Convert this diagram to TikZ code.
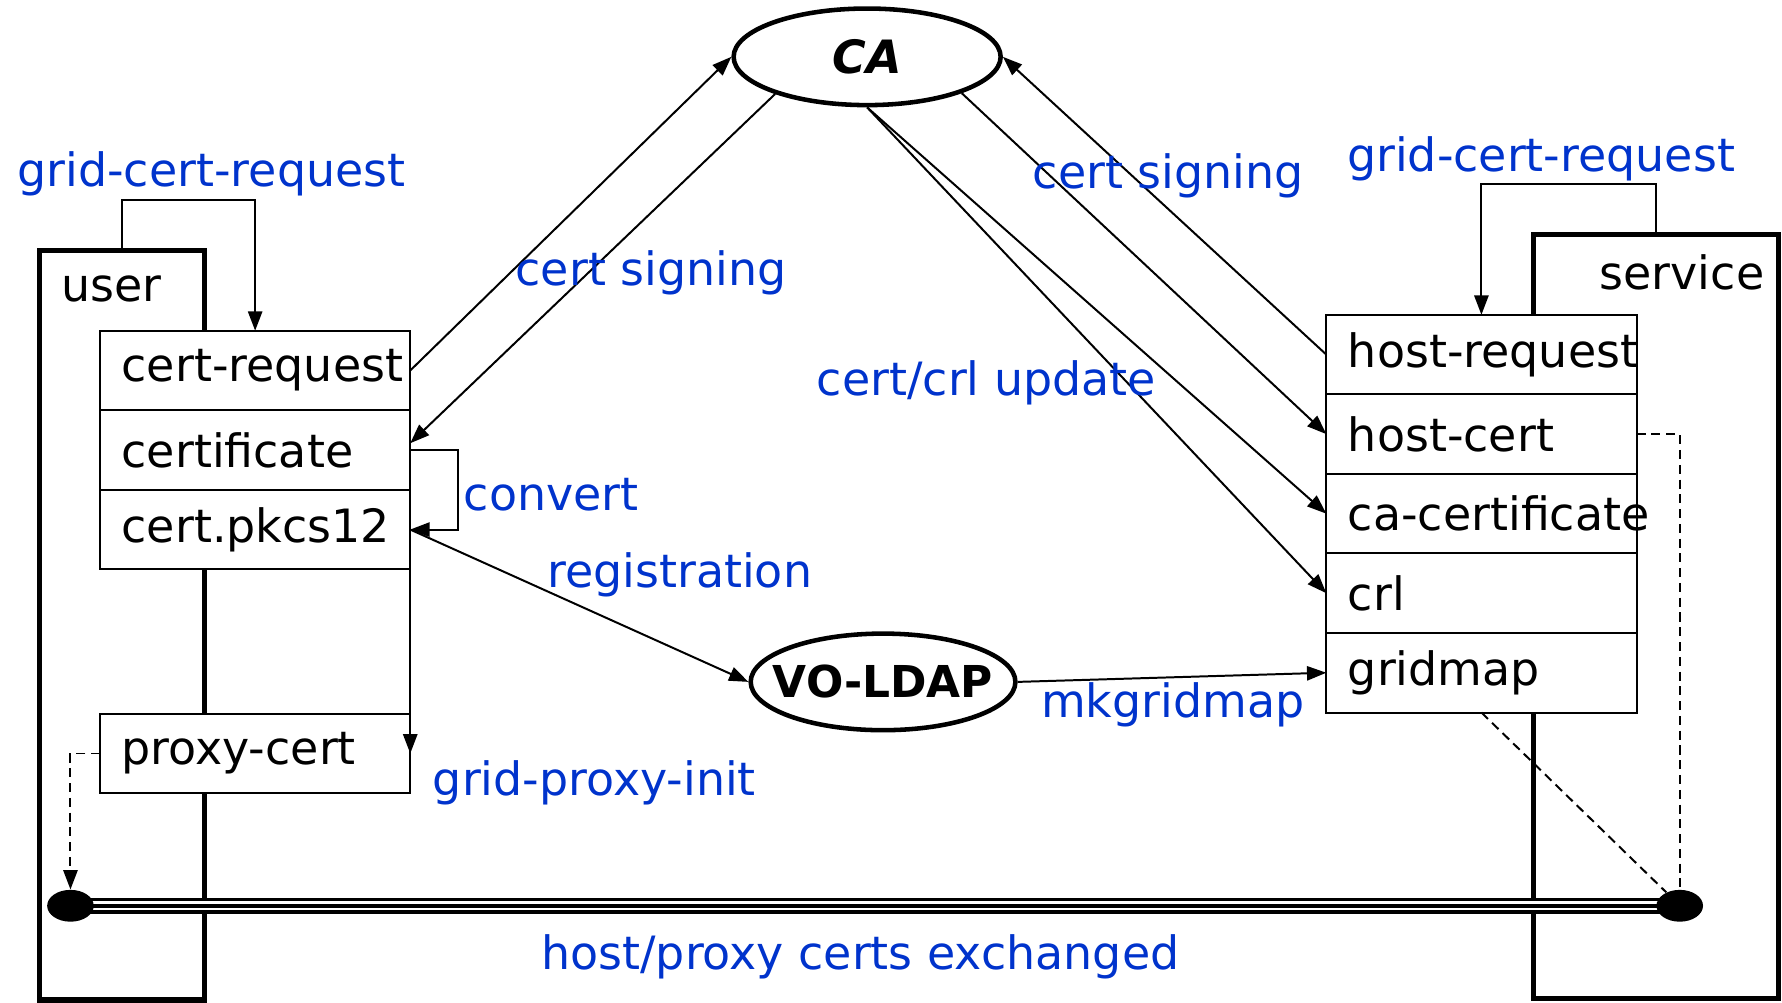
\documentclass[tikz,border=0pt]{standalone}
\usepackage{fontspec}
\setmainfont{DejaVu Sans}
\usetikzlibrary{positioning,shapes.geometric,arrows.meta,calc}
\definecolor{labelblue}{RGB}{0,51,204}
\exhyphenpenalty=10000
\hyphenpenalty=10000
\tikzset{
  big/.style={draw, line width=0.09cm, inner sep=0pt},
  cell/.style={draw, fill=white, line width=0.035cm, outer sep=0pt, minimum height=1.4cm,
    text width=4.7cm, inner xsep=0.38cm, inner ysep=0pt, align=left},
  agent/.style={draw, ellipse, line width=0.08cm, inner sep=0pt, minimum width=4.7cm, minimum height=1.7cm},
  blob/.style={fill, ellipse, inner sep=0pt, minimum width=0.82cm, minimum height=0.56cm},
  note/.style={text=labelblue},
  link/.style={line width=0.035cm, -{Triangle[length=0.34cm,width=0.25cm]}},
  dashlink/.style={line width=0.035cm, dash pattern=on 0.16cm off 0.1cm}
}
\begin{document}
\begin{tikzpicture}[x=0.02cm, y=-0.02cm, font=\fontsize{23}{27}\selectfont]
  \useasboundingbox (0,0) rectangle (1568,882);
  % hosts
  \node[big, minimum width=2.9cm, minimum height=13.2cm] (user) at (107.5,550) {};
  \node[big, minimum width=4.32cm, minimum height=13.46cm] (service) at (1457,542.5) {};
  \node (usertxt) at (98,254) {user};
  \node (servicetxt) at (1480,240) {service};

  % exchange line between the two ends
  \coordinate (lend) at (62,797);
  \coordinate (rend) at (1478,797);
  \draw[line width=0.06cm, double=white, double distance=0.16cm] (lend) -- (rend);
  \draw[line width=0.08cm] (lend) -- (rend);
  \node[blob] (ldot) at (lend) {};
  \node[blob] (rdot) at (rend) {};

  % user side files
  \node[cell] (creq) at (224.5,326) {cert-request};
  \node[cell, below=0pt of creq] (cert) {certificate};
  \node[cell, below=0pt of cert] (pkcs) {cert.pkcs12};
  \node[cell] (proxy) at (224.5,663) {proxy-cert};

  % service side files
  \node[cell] (hreq) at (1303.5,312) {host-request};
  \node[cell, below=0pt of hreq] (hcert) {host-cert};
  \node[cell, below=0pt of hcert] (cacert) {ca-certificate};
  \node[cell, below=0pt of cacert] (crl) {crl};
  \node[cell, below=0pt of crl] (gmap) {gridmap};

  % authorities (text as centre label so the ellipse keeps its size)
  \node[agent, label={[font=\fontsize{23}{27}\selectfont\bfseries\itshape]center:CA}] (ca) at (763,50) {};
  \node[agent, minimum width=4.66cm, label={[font=\fontsize{22}{26}\selectfont\bfseries]center:VO-LDAP}] (vo) at (777,600) {};

  % arrows
  \draw[link] (user.north) -- ++(0,-42) -| (creq.north);
  \draw[link] (service.north) -- ++(0,-42) -| (hreq.north);
  \draw[link] (creq.east) -- (ca.west);
  \draw[link] (ca.202) -- ($(cert.east)+(0,-6)$);
  \draw[link] (cert.east) -- ++(42,0) |- (pkcs.east);
  \draw[link] (pkcs.east) -- (vo.west);
  \draw[link] (pkcs.south east) -- (proxy.east);
  \draw[dashlink, -{Triangle[length=0.34cm,width=0.25cm]}] (proxy.west) -| (ldot.north);
  \draw[link] (hreq.west) -- (ca.east);
  \draw[link] (ca.339) -- (hcert.west);
  \draw[link] (ca.south) -- (cacert.west);
  \draw[link] (ca.south) -- (crl.west);
  \draw[link] (vo.east) -- (gmap.west);
  \draw[dashlink] (hcert.east) -| (rdot.north);
  \draw[dashlink] (gmap.south) -- (rdot.135);

  % labels
  \node[note] (lreqtxt) at (186,153) {grid-cert-request};
  \node[note] (rreqtxt) at (1356,140) {grid-cert-request};
  \node[note] (lsigntxt) at (573,240) {cert signing};
  \node[note] (rsigntxt) at (1028,155) {cert signing};
  \node[note] (updatetxt) at (868,337) {cert/crl update};
  \node[note] (convtxt) at (485,435) {convert};
  \node[note] (regtxt) at (598,506) {registration};
  \node[note] (inittxt) at (523,689) {grid-proxy-init};
  \node[note] (mkmaptxt) at (1032,620) {mkgridmap};
  \node[note] (xchgtxt) at (757,842) {host/proxy certs exchanged};
\end{tikzpicture}
\end{document}
